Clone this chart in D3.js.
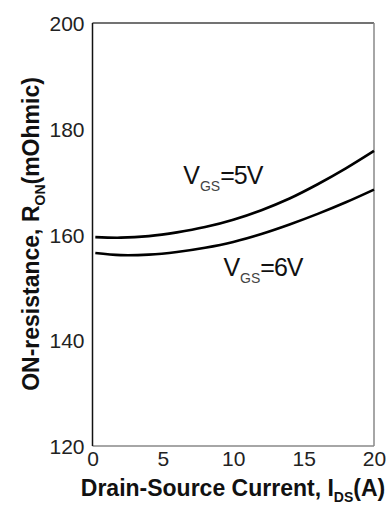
<!DOCTYPE html>
<html><head><meta charset="utf-8">
<script src="https://cdn.jsdelivr.net/npm/d3@7"></script>
<style>
html,body{margin:0;padding:0;background:#fff;}
svg text{font-family:"Liberation Sans",Arial,sans-serif;}
</style></head>
<body><svg id="c" width="392" height="506"></svg>
<script>
const current = [0.2, 2, 4, 6, 8, 10, 12, 14, 16, 18, 20];
const rOn5V = [159.5, 159.4, 159.7, 160.4, 161.4, 162.8, 164.6, 166.8, 169.5, 172.5, 175.8];
const rOn6V = [156.5, 156.1, 156.2, 156.7, 157.5, 158.6, 160.1, 161.9, 163.9, 166.1, 168.5];
const xTicks = [0, 5, 10, 15, 20];
const yTicks = [120, 140, 160, 180, 200];

const svg = d3.select("#c");
const x = d3.scaleLinear().domain([0, 20]).range([92.5, 374]);
const y = d3.scaleLinear().domain([120, 200]).range([446, 23]);

// frame
svg.append("line").attr("x1", x(0)).attr("x2", x(20)).attr("y1", y(200)).attr("y2", y(200)).attr("stroke", "#444").attr("stroke-width", 1.5);
svg.append("line").attr("x1", x(20)).attr("x2", x(20)).attr("y1", y(200)).attr("y2", y(120)).attr("stroke", "#888").attr("stroke-width", 1.5);
svg.append("line").attr("x1", x(0)).attr("x2", x(20)).attr("y1", y(120)).attr("y2", y(120)).attr("stroke", "#888").attr("stroke-width", 1.5);
svg.append("line").attr("x1", x(0)).attr("x2", x(0)).attr("y1", y(200)).attr("y2", y(120)).attr("stroke", "#111").attr("stroke-width", 1.5);

// axes (labels only)
const yAxis = d3.axisLeft(y).tickValues(yTicks).tickSize(0).tickPadding(8);
const gy = svg.append("g").attr("transform", `translate(${x(0)},0)`).call(yAxis);
gy.select(".domain").remove();
gy.selectAll("text").attr("font-size", 21).attr("fill", "#222").style("font-family", "Liberation Sans, Arial, sans-serif").attr("dy", "0.36em");

const xAxis = d3.axisBottom(x).tickValues(xTicks).tickSize(0).tickPadding(5);
const gx = svg.append("g").attr("transform", `translate(0,${y(120)})`).call(xAxis);
gx.select(".domain").remove();
gx.selectAll("text").attr("font-size", 21).attr("fill", "#222").style("font-family", "Liberation Sans, Arial, sans-serif");

// curves
const line = d3.line().x((d, i) => x(current[i])).y(d => y(d)).curve(d3.curveCatmullRom);
[rOn5V, rOn6V].forEach(s => {
  svg.append("path").attr("d", line(s)).attr("fill", "none").attr("stroke", "#000").attr("stroke-width", 2.6);
});

// curve labels
function vLabel(tx, ty, val) {
  const t = svg.append("text").attr("x", tx).attr("y", ty).attr("font-size", 25).attr("fill", "#111");
  t.append("tspan").text("V");
  t.append("tspan").attr("font-size", 14).attr("dy", 7).attr("fill", "#444").text("GS");
  t.append("tspan").attr("dy", -7).attr("letter-spacing", -1).text("=" + val + "V");
}
vLabel(x(6.45), y(169.6), 5);
vLabel(x(9.3), y(152.2), 6);

// axis titles
const xt = svg.append("text").attr("x", 233).attr("y", 496).attr("text-anchor", "middle")
  .attr("font-size", 23).attr("font-weight", "bold").attr("fill", "#111");
xt.append("tspan").text("Drain-Source Current, I");
xt.append("tspan").attr("font-size", 14).attr("dy", 6).text("DS");
xt.append("tspan").attr("dy", -6).text("(A)");

const yt = svg.append("text").attr("transform", `translate(39,234) rotate(-90)`).attr("text-anchor", "middle")
  .attr("font-size", 23).attr("font-weight", "bold").attr("fill", "#111");
yt.append("tspan").text("ON-resistance, R");
yt.append("tspan").attr("font-size", 14).attr("dy", 6).text("ON");
yt.append("tspan").attr("dy", -6).text("(mOhmic)");
</script></body></html>
